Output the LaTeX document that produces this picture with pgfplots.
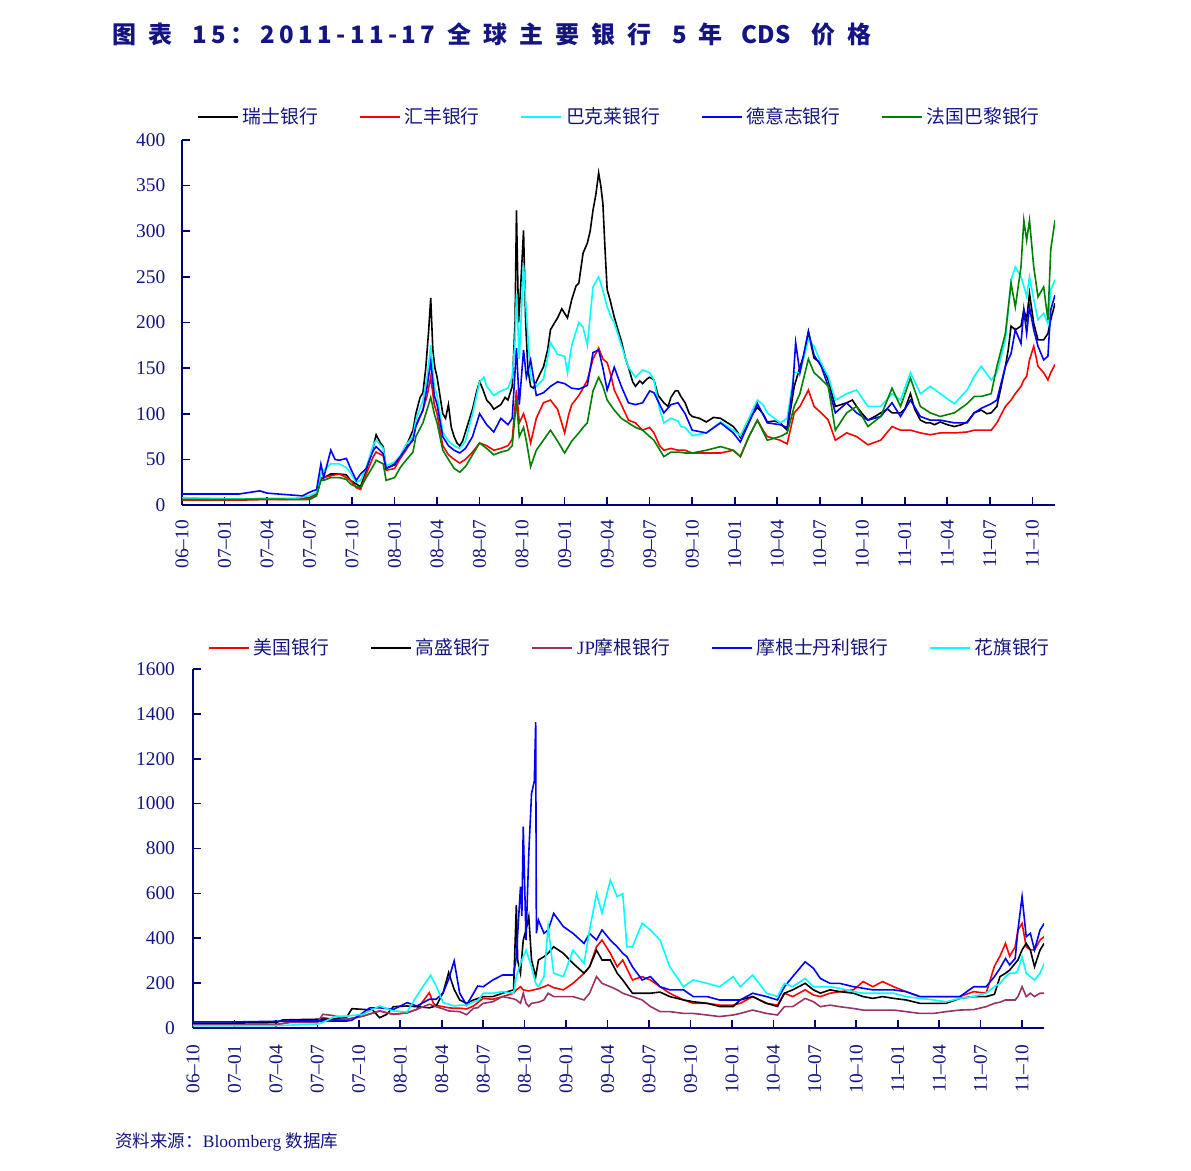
\documentclass[border=0pt]{standalone}
\usepackage{fontspec}
\setmainfont{Liberation Serif}
\newfontfamily\cjk{Noto Sans CJK SC}
\newfontfamily\lat{Liberation Serif}
\usepackage{pgfplots}
\pgfplotsset{compat=1.18}

\definecolor{navy}{RGB}{0,0,128}
\definecolor{txt}{RGB}{20,20,130}
\definecolor{bgreen}{RGB}{0,128,0}
\definecolor{jpm}{RGB}{153,51,102}
\definecolor{aqua}{RGB}{0,255,255}
\definecolor{pureblue}{RGB}{0,0,255}
\definecolor{purered}{RGB}{255,0,0}

\pgfplotsset{
  cds/.style={
    scale only axis,
    axis x line=bottom, axis y line=left,
    axis line style={navy, line width=1pt, -},
    tick align=inside, major tick length=4pt,
    tick style={navy, line width=0.8pt},
    xmin=0, xmax=61.6, ymin=0,
    xtick={0,3,...,60},
    xticklabels={06--10,07--01,07--04,07--07,07--10,08--01,08--04,08--07,08--10,
      09--01,09--04,09--07,09--10,10--01,10--04,10--07,10--10,11--01,11--04,11--07,11--10},
    ticklabel style={font=\fontsize{9.7}{11}\selectfont, text=txt},
    xticklabel style={rotate=90, anchor=east},
    xticklabel shift=4pt, yticklabel shift=4.8pt,
    /pgf/number format/assume math mode=true,
    /pgf/number format/1000 sep={},
    legend columns=5,
    legend cell align=left,
    legend image code/.code={\draw[#1] (0pt,0pt) -- (20pt,0pt);},
    legend style={draw=none, fill=none, inner sep=0pt, anchor=west,
      font=\cjk\fontsize{9.4}{11}\selectfont, text=txt,
      /tikz/every even column/.append style={column sep=18.4pt}},
    every axis plot/.append style={line width=0.8pt},
  }
}

\newcommand{\cg}{\hspace{6pt}}
\newcommand{\dk}{\kern2.2pt}

\begin{document}
\begin{tikzpicture}
\useasboundingbox (0,0) rectangle (595.5pt,-585.5pt);

\node[anchor=west, inner sep=0pt, text=txt, font=\cjk\bfseries\fontsize{12}{14}\selectfont]
  at (56pt,-17pt) {图\cg 表\hspace{10pt}1\dk 5\dk ：\hspace{3pt}2\dk 0\dk 1\dk 1\dk -\dk 1\dk 1\dk -\dk 1\dk 7\cg 全\cg 球\cg 主\cg 要\cg 银\cg 行\hspace{10.5pt}5\cg 年\hspace{9.5pt}CDS\hspace{10.5pt}价\cg 格};

% top panel: European banks
\begin{axis}[cds,
  at={(91pt,-252.5pt)}, anchor=south west,
  width=436.5pt, height=182.5pt,
  ymax=400, ytick={0,50,...,400},
  legend style={at={(0,1)}, xshift=7.5pt, yshift=11.5pt},
]
\addplot[black] coordinates {(0,6) (2,6) (4,6.5) (6,7) (8,7) (9,8) (9.5,12) (9.8,28) (10,30) (10.5,34) (11.1,34) (11.6,33) (11.9,27) (12.3,23) (12.6,20) (13,38) (13.5,64) (13.7,77) (14,68) (14.2,64) (14.4,40) (15,44) (15.4,52) (15.8,64) (16.3,82) (16.5,100) (16.8,118) (17,123) (17.2,150) (17.4,190) (17.55,227) (17.7,170) (17.85,150) (18,140) (18.2,120) (18.4,100) (18.6,95) (18.8,110) (19,85) (19.2,75) (19.4,68) (19.6,65) (19.8,70) (20,80) (20.3,95) (20.5,105) (20.8,125) (21,135) (21.2,128) (21.5,115) (21.8,110) (22,105) (22.3,108) (22.5,110) (22.8,118) (23,115) (23.3,130) (23.5,200) (23.6,323) (23.75,200) (23.9,240) (24.1,301) (24.25,200) (24.4,150) (24.6,130) (24.8,128) (25,135) (25.3,145) (25.5,151) (25.8,170) (26,192) (26.3,200) (26.5,205) (26.8,215) (27,210) (27.2,205) (27.5,225) (27.8,240) (28,243) (28.3,276) (28.6,287) (28.8,300) (29,323) (29.2,340) (29.4,364) (29.55,350) (29.7,330) (29.85,280) (30,236) (30.2,225) (30.5,206) (30.8,190) (31,180) (31.3,160) (31.5,151) (31.8,135) (32,130) (32.3,136) (32.5,133) (32.8,138) (33,140) (33.3,137) (33.6,120) (34,112) (34.3,108) (34.5,118) (34.8,125) (35,125) (35.2,119) (35.5,112) (35.8,100) (36,97) (36.5,95) (37,91) (37.5,96) (38,95) (38.5,90) (38.9,86) (39.2,80) (39.4,74) (39.8,85) (40.2,98) (40.6,107) (41,100) (41.3,91) (41.8,92) (42.2,90) (42.7,82) (43,110) (43.2,130) (43.6,151) (43.9,165) (44.2,190) (44.4,175) (44.6,161) (45.1,155) (45.6,137) (46.1,108) (46.5,110) (46.9,112) (47.3,115) (47.6,108) (48,100) (48.4,93) (49,98) (49.3,101) (49.8,105) (50.1,101) (50.7,101) (51,105) (51.4,122) (51.7,105) (52.1,93) (52.5,90) (52.8,90) (53.1,88) (53.5,91) (54,88) (54.5,86) (55,88) (55.4,91) (55.9,101) (56.4,104) (56.8,100) (57.1,101) (57.5,108) (57.8,130) (58.1,152) (58.3,170) (58.5,196) (58.8,192) (59.2,196) (59.4,214) (59.6,203) (59.8,232) (60.1,199) (60.4,181) (60.8,181) (61.1,188) (61.3,203) (61.6,221)};
\addlegendentry{瑞士银行}
\addplot[purered] coordinates {(0,5) (3,5) (6,6) (8,6) (9,7) (9.5,12) (9.8,30) (10,30) (10.5,32) (11.1,34) (11.6,30) (11.9,27) (12.3,19) (12.6,17) (13,34) (13.5,53) (13.7,58) (14.2,54) (14.4,38) (15,40) (15.4,51) (15.8,60) (16.3,73) (16.5,88) (17,104) (17.3,120) (17.55,140) (17.8,110) (18,100) (18.4,65) (18.8,55) (19.2,50) (19.6,46) (20,50) (20.5,58) (21,68) (21.5,65) (22,60) (22.5,62) (23,65) (23.3,72) (23.6,126) (23.8,90) (24.1,100) (24.3,90) (24.6,68) (25,95) (25.3,105) (25.5,112) (26,115) (26.5,105) (27,79) (27.3,100) (27.5,110) (28,120) (28.3,128) (28.6,137) (29,160) (29.4,172) (29.7,160) (30,156) (30.3,140) (30.5,126) (31,110) (31.5,93) (32,90) (32.5,82) (33,85) (33.3,79) (33.7,65) (34,60) (34.5,62) (35,60) (35.5,60) (36,57) (37,57) (38,57) (38.9,60) (39.4,53) (40,75) (40.6,93) (41,82) (41.3,75) (42.2,71) (42.7,67) (43.2,101) (43.6,108) (44.2,126) (44.6,108) (45.1,101) (45.6,93) (46.1,71) (46.9,79) (47.6,75) (48.4,66) (49.3,71) (50.1,86) (50.7,82) (51.4,82) (52.1,79) (52.8,77) (53.5,79) (54.5,79) (55.4,80) (55.9,82) (56.4,82) (57.1,82) (57.5,90) (58.1,108) (58.5,115) (58.8,122) (59.2,130) (59.4,137) (59.6,141) (59.8,159) (60.1,174) (60.4,152) (60.8,145) (61.1,137) (61.3,145) (61.6,154)};
\addlegendentry{汇丰银行}
\addplot[aqua] coordinates {(0,8) (3,7) (6,7) (8,7) (9,10) (9.5,14) (9.8,34) (10,38) (10.5,45) (11.1,45) (11.6,41) (11.9,35) (12.3,25) (12.6,27) (13,41) (13.5,66) (13.7,71) (14.2,62) (14.4,43) (15,47) (15.4,54) (15.8,66) (16.3,75) (16.5,93) (17,115) (17.3,140) (17.55,175) (17.8,130) (18,120) (18.4,80) (18.8,70) (19.2,65) (19.6,62) (20,70) (20.5,100) (21,135) (21.3,140) (21.5,130) (22,120) (22.5,125) (23,128) (23.3,140) (23.5,180) (23.6,232) (23.8,160) (24.1,263) (24.3,210) (24.6,140) (25,130) (25.5,138) (26,178) (26.5,165) (27,163) (27.2,145) (27.5,175) (28,200) (28.3,195) (28.6,175) (29,239) (29.4,250) (29.7,235) (30,217) (30.3,205) (30.5,200) (31,175) (31.5,151) (32,140) (32.5,148) (33,145) (33.3,137) (33.7,105) (34,90) (34.5,95) (35,92) (35.2,86) (35.5,85) (36,76) (37,79) (38,91) (38.9,82) (39.4,76) (40,95) (40.6,115) (41,110) (41.3,101) (42.2,90) (42.7,95) (43.2,145) (43.6,145) (44.2,181) (44.6,174) (45.1,155) (45.6,141) (46.1,115) (46.9,122) (47.6,126) (48.4,108) (49.3,108) (50.1,122) (50.7,115) (51.4,145) (52.1,122) (52.8,130) (53.5,122) (54.5,111) (55.4,126) (55.9,141) (56.4,152) (57.1,137) (57.5,145) (58.1,181) (58.5,247) (58.8,261) (59.2,250) (59.4,240) (59.6,229) (59.8,250) (60.1,225) (60.4,203) (60.8,210) (61.1,199) (61.3,236) (61.6,247)};
\addlegendentry{巴克莱银行}
\addplot[pureblue] coordinates {(0,12) (2,12) (4,12) (5.5,15.5) (6,13) (8.5,10) (9,14) (9.5,17) (9.8,45) (10,30) (10.5,60) (10.8,50) (11.1,49) (11.6,51) (11.9,40) (12.3,27) (12.6,34) (13,40) (13.5,60) (13.7,64) (14.2,56) (14.4,40) (15,45) (15.4,53) (15.8,62) (16.3,71) (16.5,86) (17,104) (17.3,130) (17.55,157) (17.8,120) (18,110) (18.4,75) (18.8,65) (19.2,60) (19.6,57) (20,62) (20.5,75) (21,100) (21.5,88) (22,80) (22.5,95) (23,88) (23.3,95) (23.6,172) (23.8,110) (24.1,170) (24.3,140) (24.6,159) (25,120) (25.5,123) (26,130) (26.5,135) (27,133) (27.5,128) (28,127) (28.6,131) (29,167) (29.4,170) (29.7,150) (30,126) (30.5,151) (31,130) (31.5,112) (32,110) (32.5,112) (33,125) (33.3,123) (34,101) (34.5,110) (35,112) (35.5,100) (36,82) (37,79) (38,90) (38.9,79) (39.4,69) (40,90) (40.6,111) (41.3,90) (42.2,88) (42.7,85) (43.1,130) (43.3,178) (43.6,145) (44.2,190) (44.6,164) (45.1,152) (45.6,130) (46.1,101) (46.9,112) (47.6,101) (48.4,93) (49.3,97) (50.1,112) (50.7,97) (51.4,115) (52.1,97) (52.8,93) (53.5,93) (54.5,90) (55.4,90) (55.9,101) (56.4,106) (57.1,111) (57.5,115) (58.1,152) (58.5,166) (58.8,192) (59.2,177) (59.4,214) (59.6,188) (59.8,217) (60.1,192) (60.4,174) (60.8,159) (61.1,163) (61.3,214) (61.6,230)};
\addlegendentry{德意志银行}
\addplot[bgreen] coordinates {(0,6) (3,6) (6,6.5) (8.5,6) (9,6) (9.5,10) (9.8,27) (10,27) (10.5,30) (11.1,30) (11.6,28) (11.9,23) (12.3,20) (12.6,19) (13,30) (13.5,43) (13.7,49) (14.2,45) (14.4,27) (15,30) (15.4,41) (15.8,49) (16.3,58) (16.5,75) (17,90) (17.3,105) (17.55,118) (17.8,100) (18,90) (18.4,60) (18.8,50) (19.2,40) (19.6,36) (20,42) (20.5,55) (21,68) (21.5,62) (22,55) (22.5,58) (23,60) (23.3,65) (23.6,115) (23.8,75) (24.1,85) (24.3,70) (24.6,42) (25,60) (25.5,71) (26,82) (26.5,70) (27,57) (27.5,70) (28,79) (28.3,85) (28.6,90) (29,125) (29.4,140) (29.7,130) (30,115) (30.5,104) (31,95) (31.5,90) (32,85) (32.5,82) (33,75) (33.3,71) (34,53) (34.5,58) (35,58) (35.5,57) (36,57) (37,60) (38,64) (38.9,60) (39.4,53) (40,75) (40.6,93) (41.3,71) (42.2,75) (42.7,79) (43.2,108) (43.6,122) (44.2,160) (44.6,145) (45.1,138) (45.6,130) (46.1,82) (46.9,101) (47.6,108) (48.4,86) (49.3,97) (50.1,128) (50.7,108) (51.4,139) (52.1,108) (52.8,101) (53.5,97) (54.5,101) (55.4,111) (55.9,119) (56.4,119) (57.1,122) (57.5,152) (58.1,188) (58.5,243) (58.8,217) (59.2,261) (59.4,312) (59.6,290) (59.8,312) (60.1,261) (60.4,228) (60.8,239) (61.1,203) (61.3,280) (61.6,312)};
\addlegendentry{法国巴黎银行}
\end{axis}

% bottom panel: US banks
\begin{axis}[cds,
  at={(96.5pt,-514pt)}, anchor=south west,
  width=425.6pt, height=179.5pt,
  ymax=1600, ytick={0,200,...,1600},
  xticklabel shift=5pt, yticklabel shift=5.5pt,
  legend style={at={(0,1)}, xshift=7.5pt, yshift=10.5pt},
]
\addplot[purered] coordinates {(0,12) (3,12) (6,14) (7,25) (9,25) (9.4,46) (10,40) (11.1,39) (11.5,42) (12.3,53) (13.5,76) (14.5,61) (15.5,68) (16.2,83) (17.1,157) (17.4,110) (17.6,100) (18.1,95) (18.5,90) (18.9,88) (19.3,88) (19.8,85) (20.3,98) (20.6,113) (21,132) (21.7,128) (22.4,140) (23.2,155) (23.4,170) (23.7,184) (23.9,170) (24.3,165) (25,175) (25.4,184) (25.7,192) (26.1,180) (26.8,170) (27.5,199) (28.3,244) (28.7,273) (29.2,362) (29.6,392) (30.2,333) (30.7,273) (31.1,303) (31.8,214) (32.5,229) (33.1,214) (33.8,184) (34.5,155) (35.5,125) (36.2,110) (37.2,110) (38.1,102) (39.1,102) (39.6,110) (40.5,140) (41.5,110) (42.3,102) (42.8,155) (43.4,140) (44.3,170) (44.9,147) (45.4,140) (46.1,155) (46.8,162) (47.8,170) (48.5,207) (49.2,184) (49.9,207) (50.7,184) (51.6,162) (52.6,140) (53.6,140) (54.5,140) (55.5,140) (56.5,162) (57.4,155) (58,276) (58.4,320) (58.8,377) (59.1,320) (59.5,362) (59.7,437) (60,466) (60.3,362) (60.6,348) (60.9,348) (61.3,392) (61.6,407)};
\addlegendentry{美国银行}
\addplot[black] coordinates {(0,22) (3,22) (6,24) (6.5,36) (9,39) (10,40) (11.1,46) (11.5,86) (12.3,83) (13,80) (13.5,46) (14,60) (14.5,95) (15.5,98) (16.2,95) (17.1,90) (17.6,98) (18.1,157) (18.5,247) (18.9,172) (19.3,125) (19.8,110) (20.3,125) (21,140) (21.7,140) (22.4,155) (23.2,170) (23.4,548) (23.5,300) (23.7,244) (23.9,392) (24.1,437) (24.3,496) (24.5,303) (24.8,229) (25,303) (25.4,318) (25.7,333) (26.1,362) (26.8,333) (27.5,288) (28.3,244) (28.7,273) (29.2,347) (29.6,303) (30.2,303) (30.7,244) (31.1,214) (31.8,155) (32.5,155) (33.1,155) (33.8,160) (34.5,140) (35.5,125) (36.2,117) (37.2,110) (38.1,96) (39.1,96) (39.6,125) (40.5,140) (41.5,110) (42.3,96) (42.8,155) (43.4,170) (44.3,199) (44.9,170) (45.4,155) (46.1,170) (46.8,162) (47.8,155) (48.5,140) (49.2,132) (49.9,140) (50.7,132) (51.6,125) (52.6,110) (53.6,110) (54.5,110) (55.5,132) (56.5,140) (57.4,140) (58,150) (58.4,229) (58.8,244) (59.1,258) (59.5,288) (59.7,303) (60,348) (60.3,377) (60.6,348) (60.9,273) (61.3,348) (61.6,377)};
\addlegendentry{高盛银行}
\addplot[jpm] coordinates {(0,14) (3,14) (6,16) (7,25) (9,25) (9.4,61) (10.1,56) (11.1,39) (12.3,53) (13.5,76) (14.5,61) (15.5,68) (16.2,83) (17.1,106) (17.6,95) (18.1,85) (18.5,76) (19.3,73) (19.8,59) (20.3,88) (20.6,90) (21,110) (21.7,117) (22.4,140) (23.2,130) (23.4,125) (23.7,110) (23.9,155) (24.1,110) (24.3,96) (24.5,110) (25,115) (25.4,125) (25.7,155) (26.1,140) (26.8,140) (27.5,140) (28.3,125) (28.7,155) (29.2,229) (29.6,199) (30.2,184) (30.7,170) (31.1,155) (31.8,140) (32.5,125) (33.1,96) (33.8,73) (34.5,73) (35.5,65) (36.2,65) (37.2,58) (38.1,51) (39.1,58) (39.6,65) (40.5,80) (41.5,65) (42.3,58) (42.8,95) (43.4,95) (44.3,132) (44.9,117) (45.4,95) (46.1,102) (46.8,95) (47.8,87) (48.5,80) (49.2,80) (50.7,80) (51.6,73) (52.6,65) (53.6,65) (54.5,73) (55.5,80) (56.5,82) (57.4,95) (58,110) (58.4,115) (58.8,125) (59.5,125) (59.7,140) (60,184) (60.3,140) (60.6,155) (60.9,140) (61.3,155) (61.6,155)};
\addlegendentry{{\lat JP}摩根银行}
\addplot[pureblue] coordinates {(0,27) (3,27) (6,30) (7,31) (9,31) (10,31) (11.1,31) (11.5,35) (12.3,68) (12.8,90) (13.5,90) (14.5,83) (15.5,113) (16.2,98) (17.1,128) (17.6,128) (18.1,157) (18.5,217) (18.9,299) (19.3,155) (19.8,102) (20.3,155) (20.6,187) (21,184) (21.7,214) (22.4,236) (23.2,236) (23.4,318) (23.7,630) (23.8,500) (23.9,897) (24.1,392) (24.3,778) (24.5,1045) (24.7,1100) (24.8,1363) (24.85,422) (25,481) (25.4,422) (25.7,437) (26.1,511) (26.8,452) (27.5,422) (28.3,377) (28.7,422) (29.2,392) (29.6,437) (30.2,392) (30.7,362) (31.1,333) (31.4,318) (31.8,273) (32.5,214) (33.1,229) (33.8,184) (34.5,170) (35.5,170) (36.2,140) (37.2,140) (38.1,125) (39.1,125) (39.6,125) (40.5,155) (41.5,140) (42.3,125) (42.8,184) (43.4,229) (44.3,295) (44.9,266) (45.4,221) (46.1,199) (46.8,199) (47.8,184) (48.5,177) (49.2,170) (50.7,170) (51.6,162) (52.6,140) (53.6,140) (54.5,140) (55.5,140) (56.5,184) (57.4,184) (58,229) (58.4,266) (58.8,310) (59.1,281) (59.5,310) (59.7,437) (60,585) (60.3,407) (60.6,422) (60.9,348) (61.3,437) (61.6,466)};
\addlegendentry{摩根士丹利银行}
\addplot[aqua] coordinates {(0,10) (3,10) (6,10) (9,18) (9.4,25) (10.1,46) (10.4,53) (11.1,53) (12.3,61) (13.5,98) (14.5,76) (15.5,72) (16.2,143) (16.8,200) (17.2,235) (17.6,187) (18.1,113) (18.5,106) (18.9,98) (19.3,102) (19.8,102) (20.3,117) (20.6,120) (21,155) (21.7,155) (22.4,162) (23.2,155) (23.4,229) (23.7,288) (23.9,318) (24.1,347) (24.5,273) (24.8,199) (25,184) (25.4,229) (25.7,452) (26.1,244) (26.8,229) (27.5,347) (28.3,288) (28.7,437) (29.2,599) (29.6,511) (30.2,659) (30.7,585) (31.1,599) (31.4,362) (31.8,362) (32.5,467) (33.1,437) (33.8,392) (34.5,273) (35.5,184) (36.2,214) (37.2,199) (38.1,184) (39.1,229) (39.6,184) (40.5,236) (41.5,155) (42.3,140) (42.8,199) (43.4,184) (44.3,221) (44.9,184) (45.4,184) (46.1,184) (46.8,177) (47.8,162) (48.5,155) (49.2,155) (50.7,155) (51.6,140) (52.6,132) (53.6,125) (54.5,117) (55.5,132) (56.5,140) (57.4,155) (58,184) (58.4,199) (58.8,229) (59.1,244) (59.5,244) (59.7,258) (60,318) (60.3,244) (60.6,229) (60.9,214) (61.3,244) (61.6,288)};
\addlegendentry{花旗银行}
\end{axis}

\node[anchor=west, inner sep=0pt, text=txt, font=\fontsize{8.75}{10}\selectfont]
  at (57.5pt,-571pt) {{\cjk 资料来源：}Bloomberg {\cjk 数据库}};
\end{tikzpicture}
\end{document}
